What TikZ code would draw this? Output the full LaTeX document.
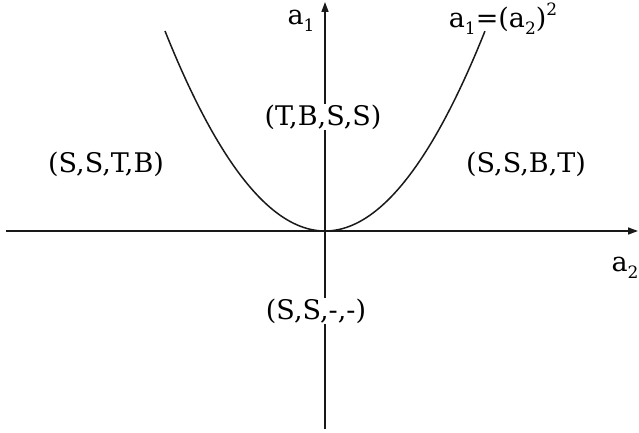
\documentclass[tikz,border=0pt]{standalone}
\usepackage{fontspec}
\setmainfont{DejaVu Serif}
\usetikzlibrary{arrows.meta}
\newcommand{\sbx}[1]{\raisebox{-0.28em}{\fontsize{17}{17}\selectfont #1}}
\newcommand{\spx}[1]{\raisebox{0.42em}{\fontsize{17}{17}\selectfont #1}}
\begin{document}
\begin{tikzpicture}[x=1pt,y=-1pt,
  axis/.style={line width=1.5pt,draw=black!90,-{Triangle[length=10pt,width=7pt]}},
  curve/.style={line width=1.5pt,draw=black!90},
  lbl/.style={inner sep=1pt,fill=white,font=\fontsize{27}{29}\selectfont}]
\useasboundingbox (0,0) rectangle (639,433);
\coordinate (xl) at (6,231);
\coordinate (xr) at (638,231);
\coordinate (yb) at (325,429);
\coordinate (yt) at (325,2);
\draw[axis] (xl) -- (xr);
\draw[axis] (yb) -- (yt);
\draw[curve] plot[domain=-1:1,samples=121,smooth] ({325+160*\x},{231-200*\x*\x});
\node[lbl] (la1) at (301,21) {a\sbx{1}};
\node[lbl,fill=none] (leq) at (503,19) {a\sbx{1}=(a\sbx{2})\spx{2}};
\node[lbl,fill=none] (la2) at (625,268) {a\sbx{2}};
\node[lbl] (tbss) at (323,117) {(T,B,S,S)};
\node[lbl] (sstb) at (106,164) {(S,S,T,B)};
\node[lbl] (ssbt) at (526,164) {(S,S,B,T)};
\node[lbl] (ssmm) at (316,311) {(S,S,-,-)};
\end{tikzpicture}
\end{document}
